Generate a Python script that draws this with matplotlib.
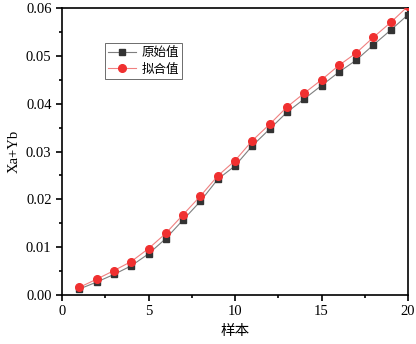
import matplotlib
matplotlib.use('Agg')
import matplotlib.pyplot as plt
import matplotlib.ticker as ticker

plt.rcParams['font.family'] = ['Liberation Serif', 'Noto Sans CJK SC']
plt.rcParams['mathtext.fontset'] = 'stix'

# 样本编号
samples = list(range(1, 21))
# 原始值
orig = [0.00125, 0.0027, 0.0043, 0.0061, 0.0086, 0.0118, 0.0157, 0.0196, 0.0242, 0.0270,
        0.0312, 0.0347, 0.0382, 0.0410, 0.0438, 0.0466, 0.0491, 0.0523, 0.0554, 0.0586]
# 拟合值
fit = [0.0016, 0.0033, 0.0051, 0.0070, 0.0097, 0.0129, 0.0168, 0.0207, 0.0249, 0.0281,
       0.0323, 0.0357, 0.0393, 0.0422, 0.0450, 0.0480, 0.0506, 0.0539, 0.0570, 0.0604]

fig = plt.figure(figsize=(4.16, 3.44), dpi=100)
ax = fig.add_axes([0.149, 0.1424, 0.832, 0.8343])

ax.plot(samples, orig, color='#7f7f7f', lw=0.8, marker='s', ms=5,
        mfc='#333333', mec='#333333', label='原始值', zorder=3)
ax.plot(samples, fit, color='#f08080', lw=0.8, marker='o', ms=5.5,
        mfc='#f03030', mec='#f03030', label='拟合值', zorder=4)

ax.set_xlim(0, 20)
ax.set_ylim(0, 0.06)
ax.xaxis.set_major_locator(ticker.MultipleLocator(5))
ax.xaxis.set_minor_locator(ticker.MultipleLocator(2.5))
ax.yaxis.set_major_locator(ticker.MultipleLocator(0.01))
ax.yaxis.set_minor_locator(ticker.MultipleLocator(0.005))
ax.yaxis.set_major_formatter(ticker.FormatStrFormatter('%.2f'))
ax.tick_params(which='both', direction='out', width=1.2, labelsize=10.5)
ax.tick_params(which='major', length=4)
ax.tick_params(which='minor', length=2.5)
for s in ax.spines.values():
    s.set_linewidth(1.2)

ax.set_xlabel('样本', fontsize=10.5, family=['Noto Sans CJK SC'], labelpad=4)
ax.set_ylabel('Xa+Yb', fontsize=10.5, labelpad=4)

leg = ax.legend(loc='upper left', bbox_to_anchor=(0.124, 0.877),
                prop={'family': ['Noto Sans CJK SC'], 'size': 9},
                fancybox=False, edgecolor='#555555', framealpha=1,
                handlelength=2.2, handletextpad=0.5, borderpad=0.25,
                labelspacing=0.25, borderaxespad=0)
leg.get_frame().set_linewidth(0.6)

fig.savefig('out.png', dpi=100)
